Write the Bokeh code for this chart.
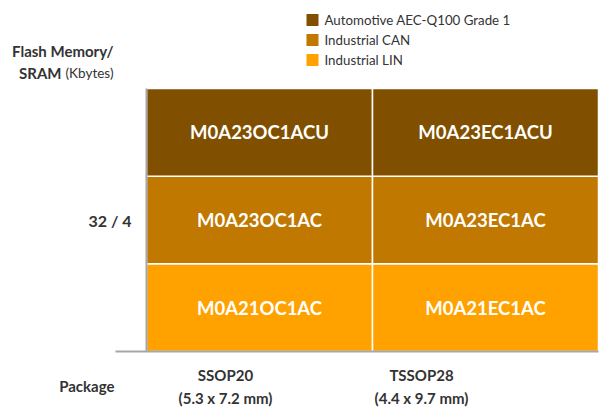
from bokeh.plotting import figure
from bokeh.models import Range1d, ColumnDataSource
from bokeh.core.properties import value
from bokeh.embed import file_html
from bokeh.resources import INLINE

# ---- data ----
packages = ["SSOP20", "TSSOP28"]
package_sizes = ["(5.3 x 7.2 mm)", "(4.4 x 9.7 mm)"]
memory_label = "32 / 4"
grades = ["Industrial LIN", "Industrial CAN", "Automotive AEC-Q100 Grade 1"]
grade_colors = ["#FFA200", "#C07800", "#805000"]
parts_lin = ["M0A21OC1AC", "M0A21EC1AC"]
parts_can = ["M0A23OC1AC", "M0A23EC1AC"]
parts_auto = ["M0A23OC1ACU", "M0A23EC1ACU"]
parts_by_grade = [parts_lin, parts_can, parts_auto]

FONT = "Lato"
TXT = "#333333"

W, H = 600, 418
# pixel geometry of the grid within the figure
gx0, gx1 = 146, 598
gy0, gy1 = 88, 351
ncol, nrow = len(packages), len(grades)
xs = (gx1 - gx0) / ncol
ys = (gy1 - gy0) / nrow
x_range = Range1d(-gx0 / xs, (W - gx0) / xs)
y_range = Range1d(-(H - gy1) / ys, gy1 / ys)

p = figure(width=W, height=H, x_range=x_range, y_range=y_range,
           output_backend="svg", toolbar_location=None,
           min_border=0, min_border_left=0, min_border_right=0,
           min_border_top=0, min_border_bottom=0)
p.axis.visible = False
p.grid.visible = False
p.outline_line_color = None
p.background_fill_color = "white"
p.border_fill_color = "white"


def px_x(fx):
    return (fx - gx0) / xs


def px_y(fy):
    return (gy1 - fy) / ys


def txt(x, y, s, size="15px", bold=True, align="right", color=TXT, x_offset=0):
    p.text(x=[x], y=[y], text=[s], x_offset=x_offset, text_color=color,
           text_font=value(FONT), text_font_style="bold" if bold else "normal",
           text_font_size=size, text_align=align, text_baseline="middle")


for r, (g, c, parts) in enumerate(zip(grades, grade_colors, parts_by_grade)):
    src = ColumnDataSource(dict(
        left=[i for i in range(ncol)], right=[i + 1 for i in range(ncol)],
        bottom=[r] * ncol, top=[r + 1] * ncol,
        xc=[i + 0.5 for i in range(ncol)], yc=[r + 0.5] * ncol, label=parts))
    p.quad(left="left", right="right", bottom="bottom", top="top", source=src,
           fill_color=c, line_color="white", line_width=1.5)
    p.text(x="xc", y="yc", text="label", source=src, text_color="white",
           text_font=value(FONT), text_font_style="bold", text_font_size="18.5px",
           text_align="center", text_baseline="middle")

# axis-like lines
p.segment(x0=[0], y0=[0], x1=[0], y1=[nrow], line_color="#A6A6A6", line_width=2)
p.segment(x0=[px_x(115)], y0=[0], x1=[ncol], y1=[0], line_color="#A6A6A6", line_width=2)

# y labels
txt(px_x(113), px_y(50), "Flash Memory/")
txt(px_x(113), px_y(72), "(Kbytes)", size="13.5px", bold=False)
txt(px_x(61), px_y(72), "SRAM")
txt(px_x(131), nrow / 2, memory_label, size="16px")

# x labels
txt(px_x(114), px_y(385), "Package")
col_offsets = [-34, -64]
for i in range(ncol):
    txt(i + 0.5, px_y(374), packages[i], align="center", x_offset=col_offsets[i])
    txt(i + 0.5, px_y(397), package_sizes[i], align="center", x_offset=col_offsets[i])

# legend (manual)
leg_rows_y = [59.5, 39.5, 19.5]  # page px, per grade (LIN, CAN, Automotive)
for g, c, ly in zip(grades, grade_colors, leg_rows_y):
    p.rect(x=[px_x(312)], y=[px_y(ly)], width=12, height=12, width_units="screen",
           height_units="screen", fill_color=c, line_color=None)
    txt(px_x(324), px_y(ly), g, size="13.3px", bold=False, align="left")

open("out.html", "w").write(file_html(p, INLINE))
